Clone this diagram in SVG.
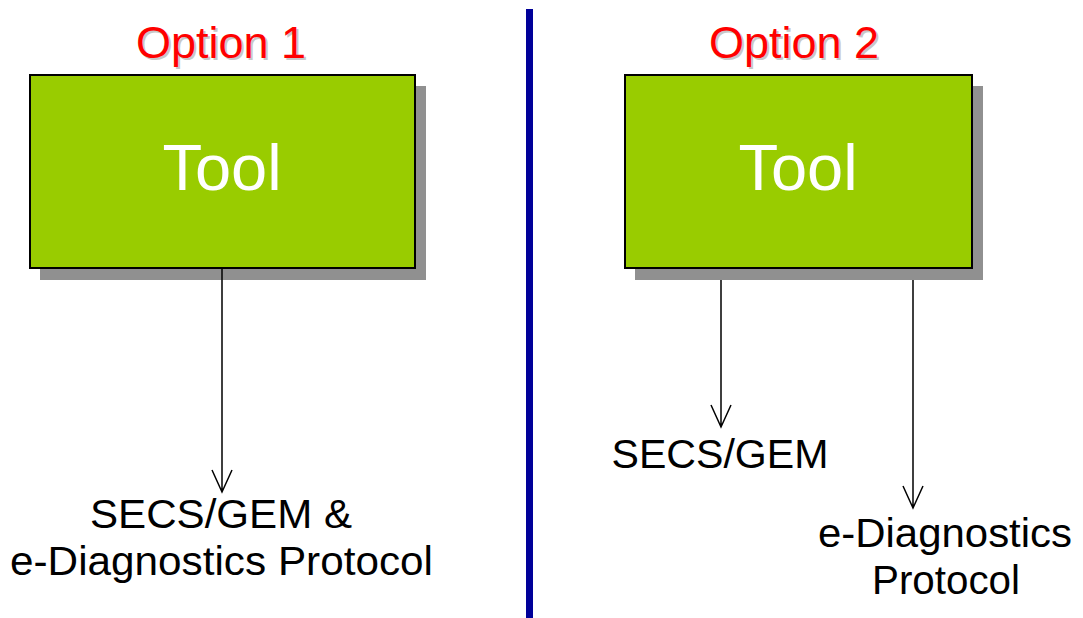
<svg xmlns="http://www.w3.org/2000/svg" width="1083" height="618" viewBox="0 0 1083 618">
<defs>
<style>
.title{font-family:"Liberation Sans",Arial,sans-serif;font-size:45px;fill:#ff0000;text-anchor:middle}
.tshadow{font-family:"Liberation Sans",Arial,sans-serif;font-size:45px;fill:#c8c8c8;text-anchor:middle}
.box{fill:#99cc00;stroke:#000;stroke-width:2}
.shadow{fill:#909090}
.tool{font-family:"Liberation Sans",Arial,sans-serif;font-size:65px;fill:#fff;text-anchor:middle}
.lbl{font-family:"Liberation Sans",Arial,sans-serif;font-size:40px;fill:#000;text-anchor:middle}
.conn{stroke:#000;stroke-width:1.5;fill:none}
</style>
</defs>
<rect width="1083" height="618" fill="#fff"/>
<rect id="divider" x="526" y="9" width="7" height="609" fill="#000099"/>
<g id="option1-title">
<text class="tshadow" x="223" y="60">Option 1</text>
<text class="title" x="221" y="58">Option 1</text>
</g>
<g id="option2-title">
<text class="tshadow" x="796" y="60">Option 2</text>
<text class="title" x="794" y="58">Option 2</text>
</g>
<g id="tool1">
<rect class="shadow" x="40" y="86" width="386" height="194"/>
<rect class="box" x="30" y="75" width="385" height="193"/>
<text class="tool" x="222" y="190">Tool</text>
</g>
<g id="tool2">
<rect class="shadow" x="635" y="86" width="348" height="194"/>
<rect class="box" x="625" y="75" width="347" height="193"/>
<text class="tool" x="798" y="190">Tool</text>
</g>
<g id="connectors">
<path class="conn" d="M222 268 V492 M212 470 L222 492 L232 470"/>
<path class="conn" d="M721 280 V427 M711 405 L721 427 L731 405"/>
<path class="conn" d="M913 280 V508 M903 486 L913 508 L923 486"/>
</g>
<g id="label1">
<text class="lbl" x="221" y="528" textLength="262" lengthAdjust="spacingAndGlyphs">SECS/GEM &amp;</text>
<text class="lbl" x="221.5" y="575" textLength="423" lengthAdjust="spacingAndGlyphs">e-Diagnostics Protocol</text>
</g>
<g id="label2a">
<text class="lbl" x="720" y="468" textLength="217" lengthAdjust="spacingAndGlyphs">SECS/GEM</text>
</g>
<g id="label2b">
<text class="lbl" x="945" y="547" textLength="254" lengthAdjust="spacingAndGlyphs">e-Diagnostics</text>
<text class="lbl" x="946" y="594" textLength="148" lengthAdjust="spacingAndGlyphs">Protocol</text>
</g>
</svg>
